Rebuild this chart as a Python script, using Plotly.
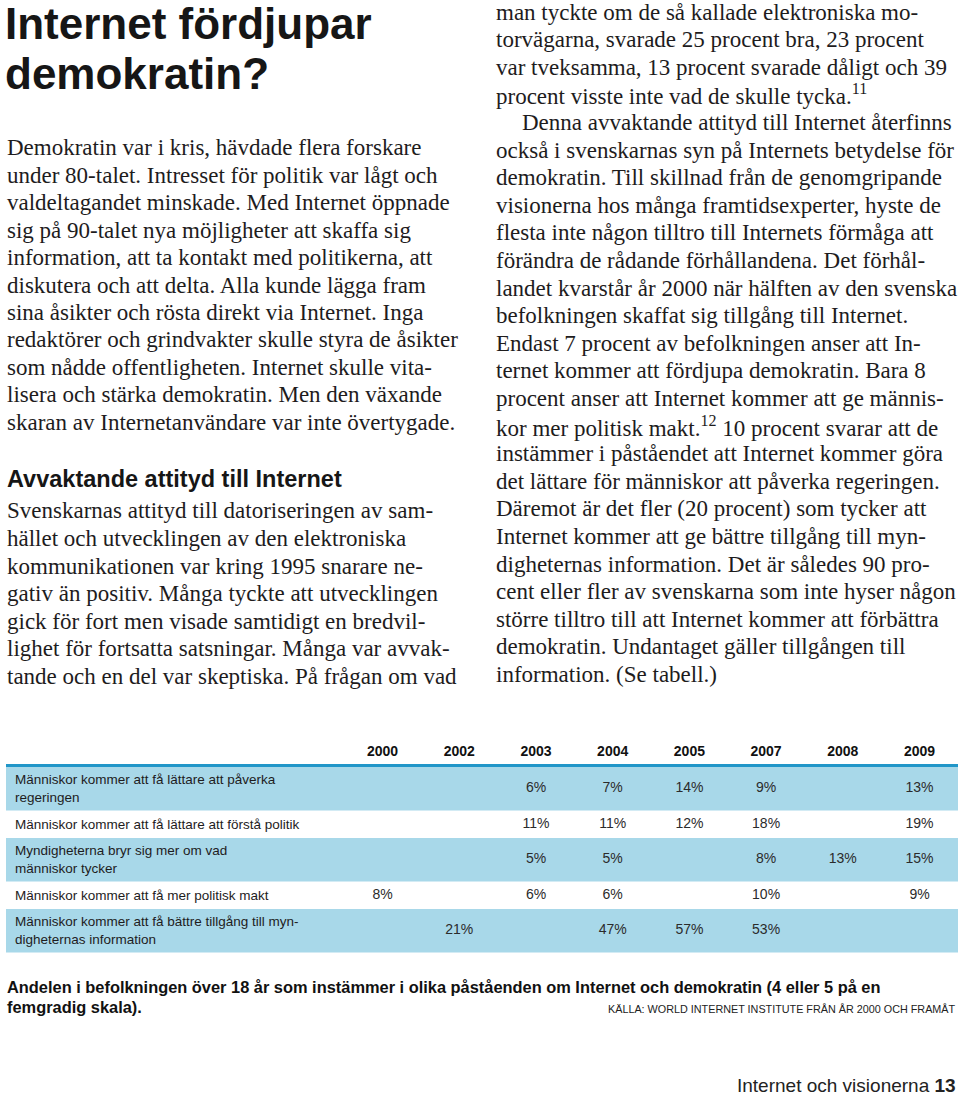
import plotly.graph_objects as go

# ---------------- data ----------------
years = ["2000", "2002", "2003", "2004", "2005", "2007", "2008", "2009"]
statements = [
    "Människor kommer att få lättare att påverka<br>regeringen",
    "Människor kommer att få lättare att förstå politik",
    "Myndigheterna bryr sig mer om vad<br>människor tycker",
    "Människor kommer att få mer politisk makt",
    "Människor kommer att få bättre tillgång till myn-<br>digheternas information",
]
paverka_regeringen = [None, None, 6, 7, 14, 9, None, 13]
forsta_politik = [None, None, 11, 11, 12, 18, None, 19]
myndigheterna_bryr_sig = [None, None, 5, 5, None, 8, 13, 15]
politisk_makt = [8, None, 6, 6, None, 10, None, 9]
tillgang_information = [None, 21, None, 47, 57, 53, None, None]
series = [paverka_regeringen, forsta_politik, myndigheterna_bryr_sig,
          politisk_makt, tillgang_information]

title_lines = ["Internet fördjupar", "demokratin?"]
left_para1 = [
    "Demokratin var i kris, hävdade flera forskare",
    "under 80-talet. Intresset för politik var lågt och",
    "valdeltagandet minskade. Med Internet öppnade",
    "sig på 90-talet nya möjligheter att skaffa sig",
    "information, att ta kontakt med politikerna, att",
    "diskutera och att delta. Alla kunde lägga fram",
    "sina åsikter och rösta direkt via Internet. Inga",
    "redaktörer och grindvakter skulle styra de åsikter",
    "som nådde offentligheten. Internet skulle vita-",
    "lisera och stärka demokratin. Men den växande",
    "skaran av Internetanvändare var inte övertygade.",
]
subheading = "Avvaktande attityd till Internet"
left_para2 = [
    "Svenskarnas attityd till datoriseringen av sam-",
    "hället och utvecklingen av den elektroniska",
    "kommunikationen var kring 1995 snarare ne-",
    "gativ än positiv. Många tyckte att utvecklingen",
    "gick för fort men visade samtidigt en bredvil-",
    "lighet för fortsatta satsningar. Många var avvak-",
    "tande och en del var skeptiska. På frågan om vad",
]
right_col = [
    "man tyckte om de så kallade elektroniska mo-",
    "torvägarna, svarade 25 procent bra, 23 procent",
    "var tveksamma, 13 procent svarade dåligt och 39",
    "procent visste inte vad de skulle tycka.<sup>11</sup>",
    "Denna avvaktande attityd till Internet återfinns",
    "också i svenskarnas syn på Internets betydelse för",
    "demokratin. Till skillnad från de genomgripande",
    "visionerna hos många framtidsexperter, hyste de",
    "flesta inte någon tilltro till Internets förmåga att",
    "förändra de rådande förhållandena. Det förhål-",
    "landet kvarstår år 2000 när hälften av den svenska",
    "befolkningen skaffat sig tillgång till Internet.",
    "Endast 7 procent av befolkningen anser att In-",
    "ternet kommer att fördjupa demokratin. Bara 8",
    "procent anser att Internet kommer att ge männis-",
    "kor mer politisk makt.<sup>12</sup> 10 procent svarar att de",
    "instämmer i påståendet att Internet kommer göra",
    "det lättare för människor att påverka regeringen.",
    "Däremot är det fler (20 procent) som tycker att",
    "Internet kommer att ge bättre tillgång till myn-",
    "digheternas information. Det är således 90 pro-",
    "cent eller fler av svenskarna som inte hyser någon",
    "större tilltro till att Internet kommer att förbättra",
    "demokratin. Undantaget gäller tillgången till",
    "information. (Se tabell.)",
]
caption_lines = [
    "Andelen i befolkningen över 18 år som instämmer i olika påståenden om Internet och demokratin (4 eller 5 på en",
    "femgradig skala).",
]
source_text = "KÄLLA: WORLD INTERNET INSTITUTE FRÅN ÅR 2000 OCH FRAMÅT"
footer_text = "Internet och visionerna <b>13</b>"

# ---------------- layout constants ----------------
W, H = 960, 1097
SANS = "Liberation Sans, Arial, sans-serif"
SERIF = "Liberation Serif, Times New Roman, serif"
INK = "#1e1c1d"
BAND = "#a8d8e9"
RULE = "#2196c8"

COL_FIRST_X = 382.6   # px centre of first year column
COL_STEP = 76.7       # px between year columns
HEADER_Y = 752
TABLE_TOP = 767
LINE_H = {1: 27.5, 2: 43.5}
TABLE_LEFT, TABLE_RIGHT = 6, 958


def px(x):
    return x / W


def py(y):
    return 1 - y / H


fig = go.Figure()
annotations = []
shapes = []

# ---------------- table ----------------
row_bounds = []
y = TABLE_TOP
for lab in statements:
    n = lab.count("<br>") + 1
    row_bounds.append((y, y + LINE_H[n]))
    y += LINE_H[n]

for i, (y0, y1) in enumerate(row_bounds):
    if i % 2 == 0:
        shapes.append(dict(type="rect", xref="paper", yref="y",
                           x0=px(TABLE_LEFT), x1=px(TABLE_RIGHT), y0=y0, y1=y1,
                           fillcolor=BAND, line=dict(width=0), layer="below"))
shapes.append(dict(type="line", xref="paper", yref="y",
                   x0=px(TABLE_LEFT), x1=px(TABLE_RIGHT),
                   y0=TABLE_TOP - 1.5, y1=TABLE_TOP - 1.5,
                   line=dict(color=RULE, width=3)))

# header years
fig.add_trace(go.Scatter(
    x=list(range(len(years))), y=[HEADER_Y] * len(years),
    mode="text", text=[f"<b>{yr}</b>" for yr in years],
    textfont=dict(family=SANS, size=14, color="#111111"),
    hoverinfo="skip", showlegend=False))

# values
vx, vy, vt = [], [], []
for (y0, y1), vals in zip(row_bounds, series):
    for j, v in enumerate(vals):
        if v is not None:
            vx.append(j)
            vy.append((y0 + y1) / 2)
            vt.append(f"{v}%")
fig.add_trace(go.Scatter(
    x=vx, y=vy, mode="text", text=vt,
    textfont=dict(family=SANS, size=14, color="#2b2b2b"),
    hoverinfo="skip", showlegend=False))

# row labels
for (y0, y1), lab in zip(row_bounds, statements):
    annotations.append(dict(
        x=px(13), y=(y0 + y1) / 2, xref="paper", yref="y",
        xanchor="left", yanchor="middle", align="left", showarrow=False,
        text=lab, font=dict(family=SANS, size=13.5, color=INK)))

# ---------------- page text ----------------
def add_line(text, x, y, family, size, color=INK, anchor="left"):
    annotations.append(dict(
        x=px(x), y=py(y), xref="paper", yref="paper",
        xanchor=anchor, yanchor="middle", align=anchor, showarrow=False,
        text=text, font=dict(family=family, size=size, color=color)))


for k, t in enumerate(title_lines):
    add_line(f"<b>{t}</b>", 3, 23 + k * 51, SANS, 44, "#161616")

BODY = 23
for k, t in enumerate(left_para1):
    add_line(t, 5, 148 + k * 27.4, SERIF, BODY)
add_line(f"<b>{subheading}</b>", 5, 479, SANS, 23.5, "#161616")
for k, t in enumerate(left_para2):
    add_line(t, 5, 511 + k * 27.5, SERIF, BODY)
for k, t in enumerate(right_col):
    xx = 520 if k == 4 else 494
    add_line(t, xx, 12 + k * 27.6, SERIF, BODY)

add_line(f"<b>{caption_lines[0]}</b>", 5, 987, SANS, 16.4, "#111111")
add_line(f"<b>{caption_lines[1]}</b>", 5, 1007, SANS, 16.4, "#111111")
add_line(source_text, 958, 1009, SANS, 10.8, "#222222", anchor="right")
add_line(footer_text, 958, 1085, SANS, 19, "#222222", anchor="right")

fig.update_layout(
    width=W, height=H,
    margin=dict(l=0, r=0, t=0, b=0),
    paper_bgcolor="white", plot_bgcolor="white",
    xaxis=dict(range=[-COL_FIRST_X / COL_STEP, (W - COL_FIRST_X) / COL_STEP],
               visible=False, fixedrange=True, domain=[0, 1]),
    yaxis=dict(range=[H, 0], visible=False, fixedrange=True, domain=[0, 1]),
    shapes=shapes, annotations=annotations,
)

fig.write_html(
    "out.html",
    config={"displayModeBar": False},
    post_script="document.body.style.margin='0';document.body.style.overflow='hidden';",
)
